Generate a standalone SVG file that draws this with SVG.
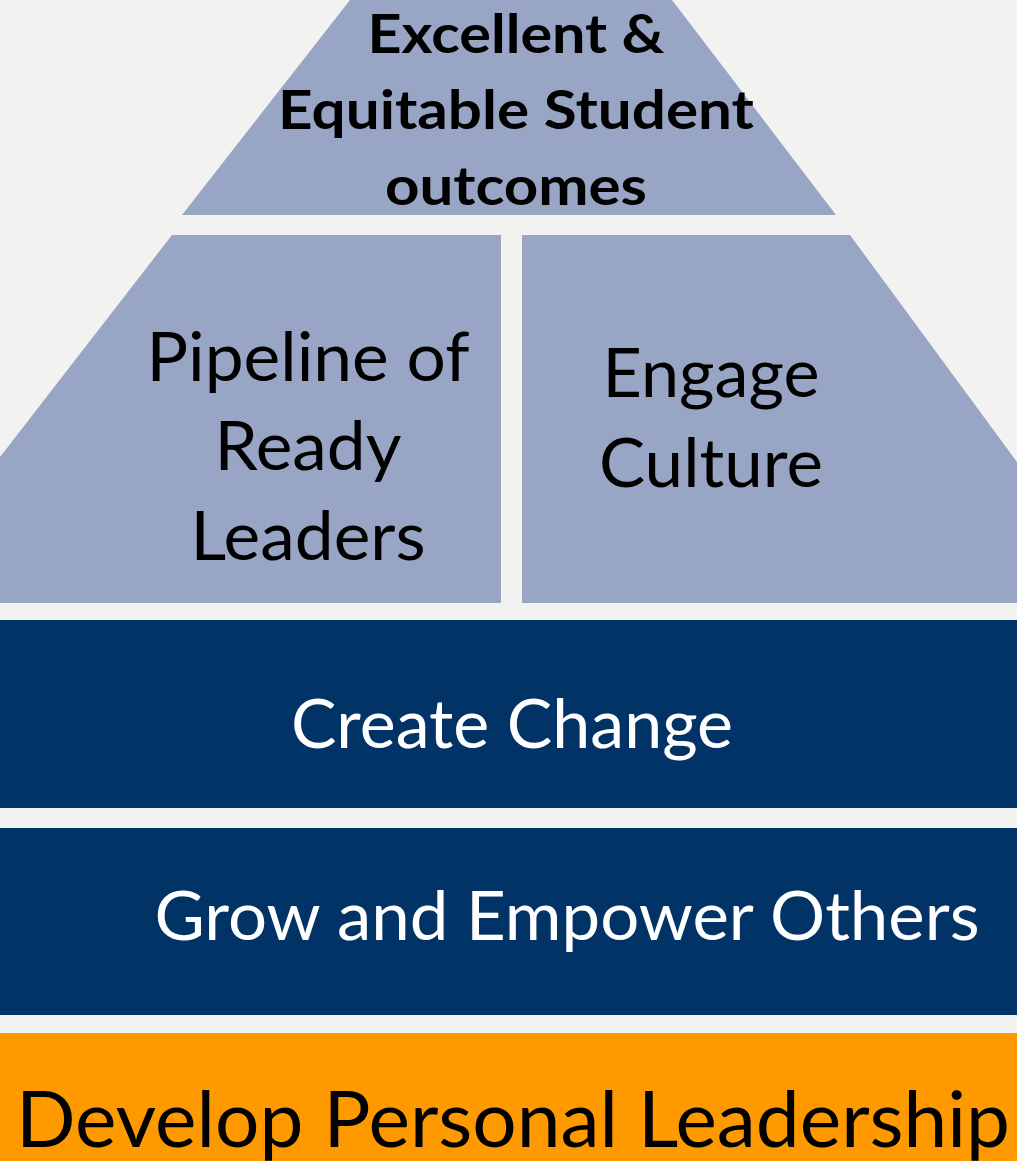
<svg xmlns="http://www.w3.org/2000/svg" width="1017" height="1161" viewBox="0 0 1017 1161">
<style>
.tier{fill:#99a5c4}
.navy{fill:#013366}
.orange{fill:#ff9900}
text{font-family:Lato,"Open Sans","Liberation Sans",sans-serif;text-anchor:middle}
.dark{fill:#000}
.light{fill:#fff}
.b{font-weight:bold;font-size:54px}
.m{font-size:67px}
.l{font-size:77px}
</style>
<rect x="0" y="0" width="1017" height="1161" fill="#f2f2f0"/>
<g id="node-outcomes">
<polygon class="tier" points="350,0 672,0 836,215 182,215"/>
<text class="dark b" x="516" y="53" textLength="297" lengthAdjust="spacingAndGlyphs">Excellent &amp;</text>
<text class="dark b" x="516" y="129" textLength="476" lengthAdjust="spacingAndGlyphs">Equitable Student</text>
<text class="dark b" x="516" y="205" textLength="262" lengthAdjust="spacingAndGlyphs">outcomes</text>
</g>
<g id="node-pipeline">
<polygon class="tier" points="172,235 501,235 501,603 0,603 0,457"/>
<text class="dark m" x="308" y="381" textLength="323" lengthAdjust="spacingAndGlyphs">Pipeline of</text>
<text class="dark m" x="308" y="470" textLength="187" lengthAdjust="spacingAndGlyphs">Ready</text>
<text class="dark m" x="308" y="560" textLength="235" lengthAdjust="spacingAndGlyphs">Leaders</text>
</g>
<g id="node-culture">
<polygon class="tier" points="522,235 850,235 1017,462 1017,603 522,603"/>
<text class="dark m" x="711" y="397" textLength="217" lengthAdjust="spacingAndGlyphs">Engage</text>
<text class="dark m" x="711" y="487" textLength="224" lengthAdjust="spacingAndGlyphs">Culture</text>
</g>
<g id="node-change">
<rect class="navy" x="0" y="620" width="1017" height="188"/>
<text class="light m" x="512" y="748" textLength="442" lengthAdjust="spacingAndGlyphs">Create Change</text>
</g>
<g id="node-grow">
<rect class="navy" x="0" y="828" width="1017" height="187"/>
<text class="light m" x="567" y="940" textLength="825" lengthAdjust="spacingAndGlyphs">Grow and Empower Others</text>
</g>
<g id="node-develop">
<rect class="orange" x="0" y="1033" width="1017" height="128"/>
<text class="dark l" x="513" y="1147" textLength="994" lengthAdjust="spacingAndGlyphs">Develop Personal Leadership</text>
</g>
<g id="connectors"/>
</svg>
